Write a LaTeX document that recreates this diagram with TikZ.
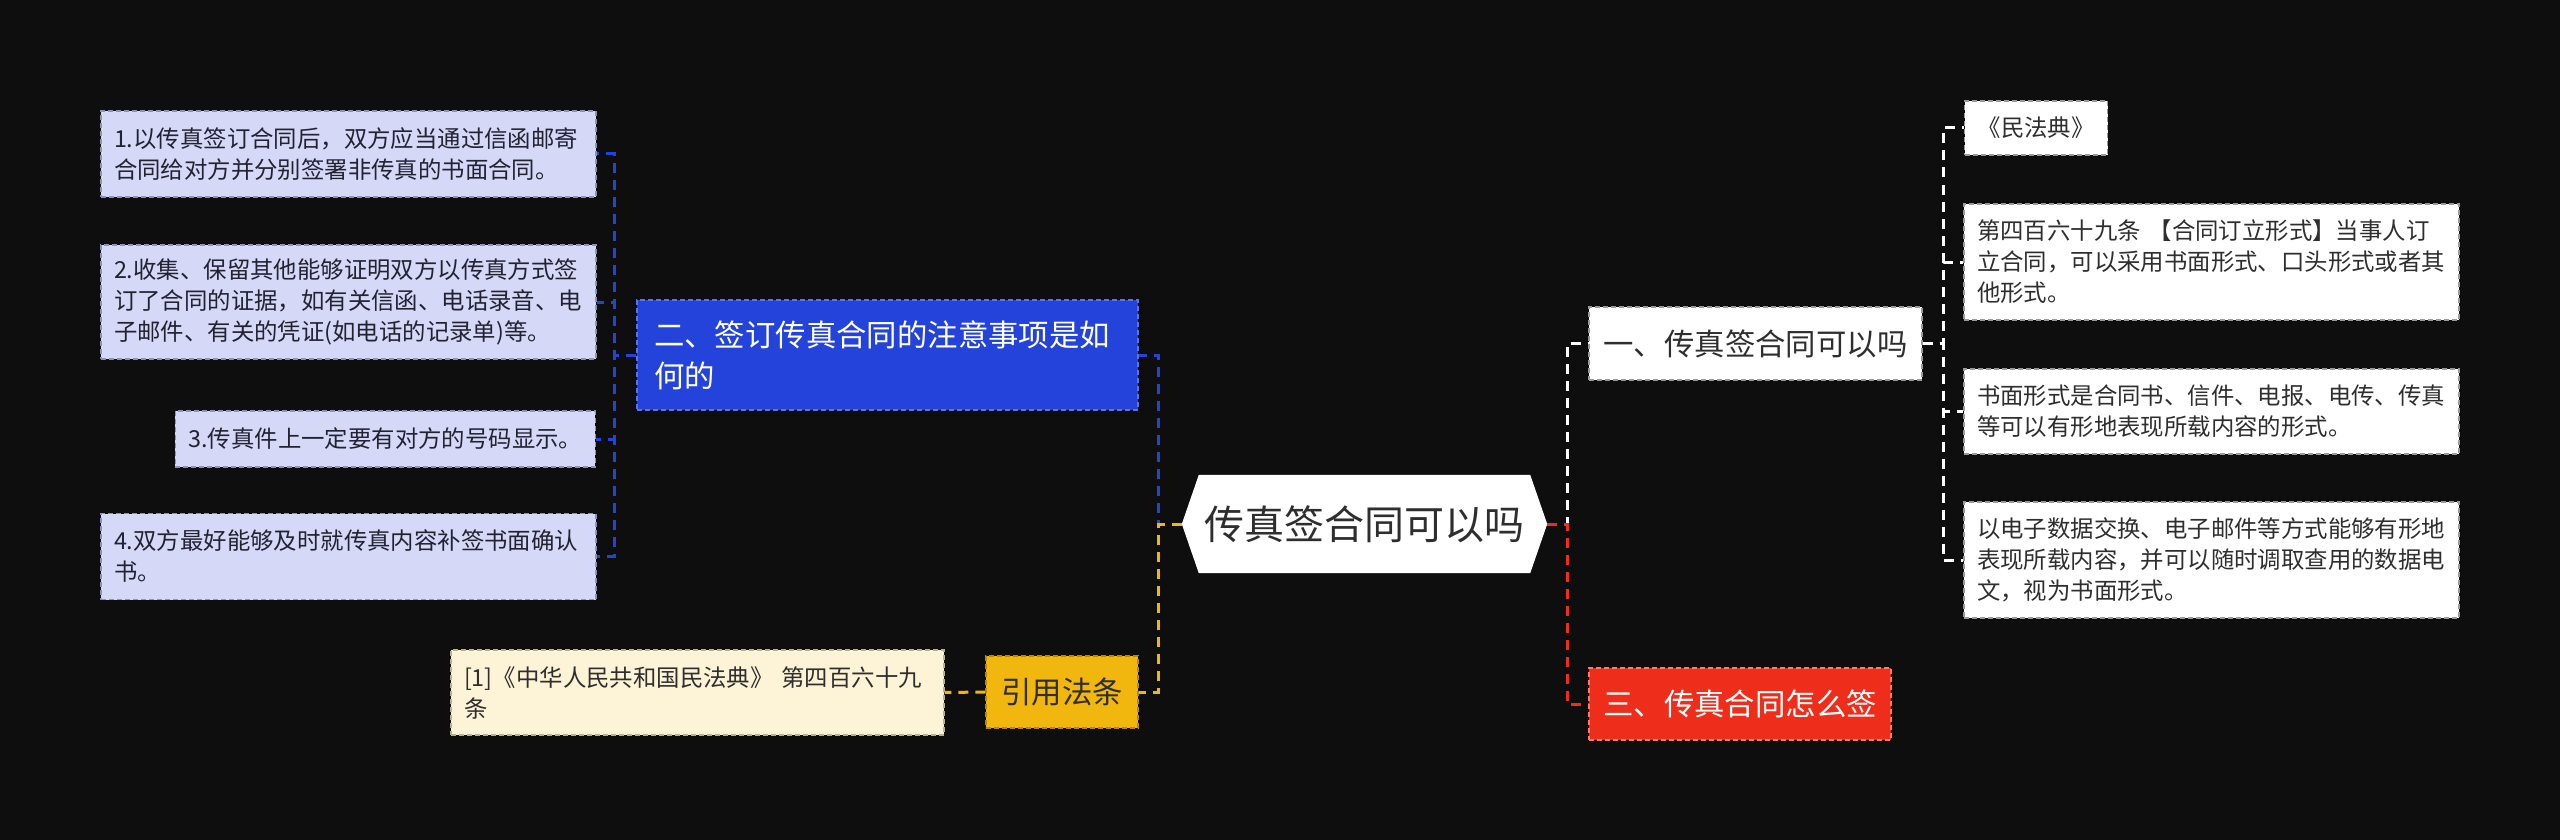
\documentclass[tikz,border=0pt]{standalone}
\usepackage{fontspec}
\setmainfont{Noto Sans CJK SC}
\pgfdeclarelayer{background}
\pgfsetlayers{background,main}
\definecolor{bgc}{HTML}{0E0E0E}
\definecolor{lav}{HTML}{D5D8F6}
\definecolor{lavb}{HTML}{8E92B8}
\definecolor{cblue}{HTML}{2443DA}
\definecolor{cblueb}{HTML}{5A72EE}
\definecolor{cyel}{HTML}{F1B70F}
\definecolor{cyelb}{HTML}{B58A10}
\definecolor{cream}{HTML}{FDF3D6}
\definecolor{creamb}{HTML}{B8AE90}
\definecolor{cred}{HTML}{EE2E1B}
\definecolor{credb}{HTML}{FF7A68}
\definecolor{wb}{HTML}{9A9A9A}
\definecolor{txt}{HTML}{222233}
\definecolor{txtg}{HTML}{2E2E2E}
\tikzset{
  x=1pt, y=-1pt,
  box/.style={draw, dash pattern=on 5pt off 3pt, line width=1.4pt, inner xsep=13pt, inner ysep=2pt, align=left, anchor=center},
  small/.style={font=\fontsize{23.4}{31}\selectfont},
  big/.style={font=\fontsize{30.4}{41}\selectfont},
  leafL/.style={box, small, fill=lav, draw=lavb, text=txt},
  leafR/.style={box, small, fill=white, draw=wb, text=txtg},
  conn/.style={line width=3pt, dash pattern=on 10pt off 7pt},
}
\begin{document}
\begin{tikzpicture}
\useasboundingbox (0,0) rectangle (2560,840);
\begin{pgfonlayer}{background}
\fill[bgc] (0,0) rectangle (2560,840);
\end{pgfonlayer}

% root
\node[inner sep=0pt, minimum width=331pt, minimum height=98pt, text=txtg, font=\fontsize{40}{48}\selectfont] (root) at (1364.5,524) {传真签合同可以吗};
\coordinate (rootL) at ([xshift=-17pt]root.west);
\coordinate (rootR) at ([xshift=17pt]root.east);
\begin{pgfonlayer}{background}
\fill[white] (root.north west) -- (root.north east) -- (rootR) -- (root.south east) -- (root.south west) -- (rootL) -- cycle;
\end{pgfonlayer}

% left branch
\node[box, big, fill=cblue, draw=cblueb, text=white, text width=467pt, inner xsep=17pt, minimum height=110pt] (B) at (887.5,355) {二、签订传真合同的注意事项是如\\何的};
\node[leafL, text width=469pt, minimum height=86pt] (L1) at (348.5,154) {1.以传真签订合同后，双方应当通过信函邮寄\\合同给对方并分别签署非传真的书面合同。};
\node[leafL, text width=469pt, minimum height=114pt] (L2) at (348.5,302) {2.收集、保留其他能够证明双方以传真方式签\\订了合同的证据，如有关信函、电话录音、电\\子邮件、有关的凭证(如电话的记录单)等。};
\node[leafL, minimum height=56pt] (L3) [anchor=east] at (596,439) {3.传真件上一定要有对方的号码显示。};
\node[leafL, text width=469pt, minimum height=86pt] (L4) at (348.5,556.5) {4.双方最好能够及时就传真内容补签书面确认\\书。};

\node[box, big, fill=cyel, draw=cyelb, text=txtg, minimum width=152pt, minimum height=72pt, align=center] (Y) at (1062,692) {引用法条};
\node[box, small, fill=cream, draw=creamb, text=txtg, text width=467pt, minimum height=85pt] (C) at (697.5,692.5) {[1]《中华人民共和国民法典》 第四百六十九\\条};

% right branch
\node[box, big, fill=white, draw=wb, text=txtg, minimum width=333pt, minimum height=73pt, align=center] (W) at (1755.5,343.5) {一、传真签合同可以吗};
\node[box, big, fill=cred, draw=credb, text=white, minimum width=302pt, minimum height=72pt, align=center] (R) at (1740,704) {三、传真合同怎么签};

\node[leafR, minimum height=54pt] (R1) [anchor=west] at (1964,128) {《民法典》};
\node[leafR, text width=469pt, minimum height=116pt] (R2) at (2211.5,262) {第四百六十九条 【合同订立形式】当事人订\\立合同，可以采用书面形式、口头形式或者其\\他形式。};
\node[leafR, text width=469pt, minimum height=85pt] (R3) at (2211.5,411.5) {书面形式是合同书、信件、电报、电传、传真\\等可以有形地表现所载内容的形式。};
\node[leafR, text width=469pt, minimum height=116pt] (R4) at (2211.5,560) {以电子数据交换、电子邮件等方式能够有形地\\表现所载内容，并可以随时调取查用的数据电\\文，视为书面形式。};

% connectors
\begin{pgfonlayer}{background}
\draw[conn, cblue] (B.west) -- ++(-22,0) |- (L1.east);
\draw[conn, cblue] (B.west) -- ++(-22,0) |- (L2.east);
\draw[conn, cblue] (B.west) -- ++(-22,0) |- (L3.east);
\draw[conn, cblue] (B.west) -- ++(-22,0) |- (L4.east);
\draw[conn, cblue] (rootL) -- ++(-23,0) |- (B.east);
\draw[conn, cyel] (rootL) -- ++(-23,0) |- (Y.east);
\draw[conn, cyel] (Y.west) -- (C.east);
\draw[conn, white] (rootR) -- ++(20,0) |- (W.west);
\draw[conn, cred] (rootR) -- ++(20,0) |- (R.west);
\draw[conn, white] (W.east) -- ++(21,0) |- (R1.west);
\draw[conn, white] (W.east) -- ++(21,0) |- (R2.west);
\draw[conn, white] (W.east) -- ++(21,0) |- (R3.west);
\draw[conn, white] (W.east) -- ++(21,0) |- (R4.west);
\end{pgfonlayer}
\end{tikzpicture}
\end{document}
